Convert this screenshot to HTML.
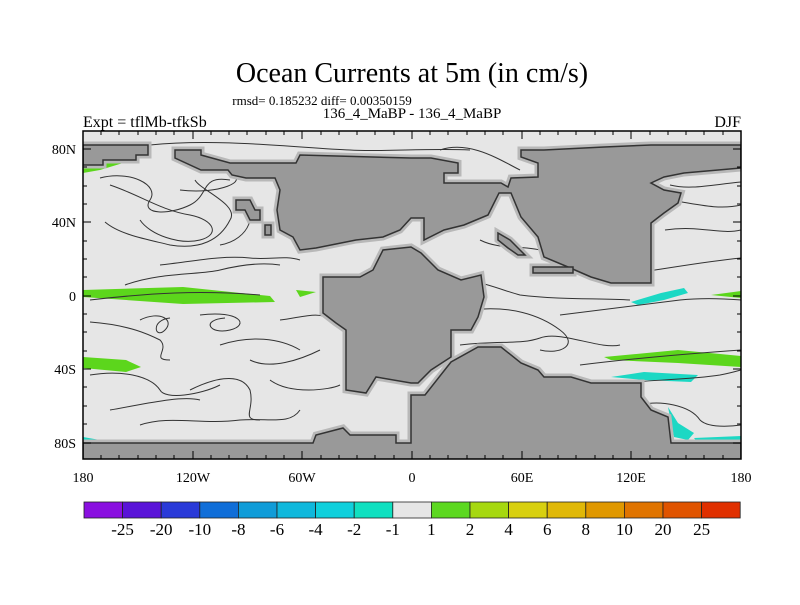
<!DOCTYPE html>
<html><head><meta charset="utf-8"><style>
body{margin:0;background:#fff;}
svg text{font-family:"Liberation Serif",serif;fill:#000;}
</style></head><body>
<svg width="800" height="600" viewBox="0 0 800 600" xmlns="http://www.w3.org/2000/svg">
<rect width="800" height="600" fill="#fff"/>
<text x="412" y="82" font-size="28" text-anchor="middle">Ocean Currents at 5m (in cm/s)</text>
<text x="322" y="105" font-size="13" text-anchor="middle">rmsd= 0.185232 diff= 0.00350159</text>
<text x="412" y="118" font-size="15" text-anchor="middle">136_4_MaBP - 136_4_MaBP</text>
<text x="83" y="127" font-size="16">Expt = tflMb-tfkSb</text>
<text x="741" y="127" font-size="16" text-anchor="end">DJF</text>
<defs><clipPath id="c"><rect x="83" y="131" width="658" height="328"/></clipPath></defs>
<rect x="83" y="131" width="658" height="328" fill="#e6e6e6"/>
<g clip-path="url(#c)">
<g fill="#5cd61c">
<polygon points="83,163 123,163 100,170 83,173"/>
<polygon points="83,290 183,287 270,296 275,302 183,304 83,297"/>
<polygon points="296,290 316,292 300,297"/>
<polygon points="83,357 126,360 141,367 126,372 83,368"/>
<polygon points="604,357 678,350 741,356 741,367 678,363 611,360"/>
<polygon points="711,295 741,291 741,298"/>
</g>
<g fill="#1cd8c4">
<polygon points="631,302 661,293 684,288 688,293 664,300 638,305"/>
<polygon points="611,377 644,372 698,375 691,382 644,380"/>
<polygon points="668,407 678,423 694,433 688,440 674,437"/>
<polygon points="694,438 741,436 741,443 698,443"/>
<polygon points="83,437 100,440 86,452"/>
</g>
<g fill="none" stroke="#333" stroke-width="1">
<path d="M150,145 C220,138 300,148 350,150 C380,152 430,148 470,150"/>
<path d="M100,178 C130,170 160,185 150,200 C140,215 170,215 190,205 C210,195 200,175 230,180"/>
<path d="M110,185 C140,195 160,210 190,215 C215,220 220,235 200,240 C180,245 150,235 140,220"/>
<path d="M105,222 C120,235 150,240 170,245 C200,250 220,240 230,220 C240,205 200,190 195,180"/>
<path d="M180,190 C220,195 250,180 230,175"/>
<path d="M240,200 C260,210 250,240 220,245"/>
<path d="M125,285 C160,272 200,275 220,270 C240,265 260,262 280,265"/>
<path d="M160,265 C190,262 220,255 250,258 C270,260 285,255 300,260"/>
<path d="M90,300 C150,293 200,290 260,295"/>
<path d="M140,320 C160,310 175,320 165,330 C155,340 150,320 170,318"/>
<path d="M200,315 C240,310 250,325 230,330 C210,335 200,320 225,318"/>
<path d="M220,345 C250,335 280,338 300,350"/>
<path d="M90,322 C130,325 150,335 160,340 C170,350 150,360 170,360"/>
<path d="M90,375 C120,370 150,375 160,390 C165,400 200,395 220,385"/>
<path d="M190,390 C210,380 240,370 250,390 C255,410 240,420 260,420"/>
<path d="M140,425 C170,415 200,425 240,420 C270,418 290,425 300,410"/>
<path d="M110,410 C140,405 180,395 200,400"/>
<path d="M280,320 C300,318 320,310 330,320"/>
<path d="M250,360 C270,370 300,360 320,350"/>
<path d="M270,380 C290,395 330,390 340,385"/>
<path d="M440,150 C470,140 500,160 520,170"/>
<path d="M480,240 C500,250 520,245 540,250"/>
<path d="M440,280 C470,275 500,290 520,295 C560,300 600,298 630,300"/>
<path d="M470,310 C510,305 540,315 560,330 C580,345 560,355 540,350"/>
<path d="M460,345 C500,340 520,345 540,338 C560,330 600,350 620,345"/>
<path d="M560,315 C600,310 640,305 680,300 C710,297 740,300 741,300"/>
<path d="M620,275 C660,270 700,262 741,258"/>
<path d="M670,200 C700,205 720,210 741,205"/>
<path d="M665,230 C700,225 720,235 741,230"/>
<path d="M670,185 C690,190 710,185 741,182"/>
<path d="M580,365 C620,360 670,355 741,350"/>
<path d="M600,385 C640,380 690,380 720,375 C735,372 740,370 741,370"/>
<path d="M640,405 C660,400 690,405 700,420 C710,430 741,425 741,425"/>
<path d="M470,395 C520,385 560,390 600,395"/>
</g>
<g stroke-linejoin="miter">
<g fill="#999" stroke="#b8b8b8" stroke-width="7">
<polygon id="n" points="175,150 201,150 201,155 230,163 296,163 300,155 411,158 431,158 458,163 458,173 444,173 444,183 501,183 508,187 511,178 538,177 538,163 521,157 521,150 544,150 604,147 651,145 741,145 741,168 684,173 664,177 651,183 664,190 681,193 678,203 664,213 651,223 651,283 611,283 591,277 568,267 544,257 538,237 521,217 511,193 499,193 488,215 464,225 444,230 424,240 424,218 411,218 400,230 383,237 356,240 316,248 300,250 293,237 280,230 277,210 280,190 275,178 246,178 232,175 228,170 201,170 175,158"/>
<polygon points="83,145 148,145 148,155 136,155 136,160 103,160 103,165 83,165"/>
<polygon points="323,277 360,277 373,270 383,250 411,247 421,253 438,270 461,280 481,275 484,297 478,317 471,330 451,330 451,357 431,370 418,383 411,383 376,377 366,393 346,390 346,330 336,323 323,313"/>
<polygon points="83,443 313,443 316,435 343,428 350,435 396,435 396,443 411,443 411,395 425,395 451,362 478,347 501,347 521,363 538,370 544,377 571,377 591,383 641,383 641,397 651,410 668,417 671,443 741,443 741,470 83,470"/>
<polygon points="236,200 250,200 255,210 260,210 260,220 250,220 245,210 236,210"/>
<polygon points="265,225 271,225 271,235 265,235"/>
<polygon points="498,233 510,240 520,250 525,255 518,255 508,248 498,240"/>
<polygon points="533,267 573,267 573,273 533,273"/>
</g>
<g fill="#999" stroke="#333" stroke-width="1.5">
<polygon points="175,150 201,150 201,155 230,163 296,163 300,155 411,158 431,158 458,163 458,173 444,173 444,183 501,183 508,187 511,178 538,177 538,163 521,157 521,150 544,150 604,147 651,145 741,145 741,168 684,173 664,177 651,183 664,190 681,193 678,203 664,213 651,223 651,283 611,283 591,277 568,267 544,257 538,237 521,217 511,193 499,193 488,215 464,225 444,230 424,240 424,218 411,218 400,230 383,237 356,240 316,248 300,250 293,237 280,230 277,210 280,190 275,178 246,178 232,175 228,170 201,170 175,158"/>
<polygon points="83,145 148,145 148,155 136,155 136,160 103,160 103,165 83,165"/>
<polygon points="323,277 360,277 373,270 383,250 411,247 421,253 438,270 461,280 481,275 484,297 478,317 471,330 451,330 451,357 431,370 418,383 411,383 376,377 366,393 346,390 346,330 336,323 323,313"/>
<polygon points="83,443 313,443 316,435 343,428 350,435 396,435 396,443 411,443 411,395 425,395 451,362 478,347 501,347 521,363 538,370 544,377 571,377 591,383 641,383 641,397 651,410 668,417 671,443 741,443 741,470 83,470"/>
<polygon points="236,200 250,200 255,210 260,210 260,220 250,220 245,210 236,210"/>
<polygon points="265,225 271,225 271,235 265,235"/>
<polygon points="498,233 510,240 520,250 525,255 518,255 508,248 498,240"/>
<polygon points="533,267 573,267 573,273 533,273"/>
</g>
</g>
</g>
<rect x="83" y="131" width="658" height="328" fill="none" stroke="#000" stroke-width="1.5"/>
<g stroke="#000" stroke-width="1">
<path d="M83,131v8M193,131v8M302,131v8M412,131v8M522,131v8M631,131v8M741,131v8M83,459v-8M193,459v-8M302,459v-8M412,459v-8M522,459v-8M631,459v-8M741,459v-8"/>
<path d="M101,131v4M119,131v4M138,131v4M156,131v4M174,131v4M211,131v4M229,131v4M247,131v4M266,131v4M284,131v4M321,131v4M339,131v4M357,131v4M375,131v4M394,131v4M430,131v4M448,131v4M467,131v4M485,131v4M503,131v4M540,131v4M558,131v4M576,131v4M595,131v4M613,131v4M650,131v4M668,131v4M686,131v4M704,131v4M723,131v4"/>
<path d="M101,459v-4M119,459v-4M138,459v-4M156,459v-4M174,459v-4M211,459v-4M229,459v-4M247,459v-4M266,459v-4M284,459v-4M321,459v-4M339,459v-4M357,459v-4M375,459v-4M394,459v-4M430,459v-4M448,459v-4M467,459v-4M485,459v-4M503,459v-4M540,459v-4M558,459v-4M576,459v-4M595,459v-4M613,459v-4M650,459v-4M668,459v-4M686,459v-4M704,459v-4M723,459v-4"/>
<path d="M83,149h8M83,222h8M83,296h8M83,369h8M83,443h8M741,149h-8M741,222h-8M741,296h-8M741,369h-8M741,443h-8"/>
<path d="M83,167h4M83,186h4M83,204h4M83,241h4M83,259h4M83,277h4M83,314h4M83,332h4M83,351h4M83,387h4M83,406h4M83,424h4M741,167h-4M741,186h-4M741,204h-4M741,241h-4M741,259h-4M741,277h-4M741,314h-4M741,332h-4M741,351h-4M741,387h-4M741,406h-4M741,424h-4"/>
</g>
<g font-size="14">
<text x="76" y="154" text-anchor="end">80N</text>
<text x="76" y="227" text-anchor="end">40N</text>
<text x="76" y="301" text-anchor="end">0</text>
<text x="76" y="374" text-anchor="end">40S</text>
<text x="76" y="448" text-anchor="end">80S</text>
<text x="83" y="482" text-anchor="middle">180</text>
<text x="193" y="482" text-anchor="middle">120W</text>
<text x="302" y="482" text-anchor="middle">60W</text>
<text x="412" y="482" text-anchor="middle">0</text>
<text x="522" y="482" text-anchor="middle">60E</text>
<text x="631" y="482" text-anchor="middle">120E</text>
<text x="741" y="482" text-anchor="middle">180</text>
</g>
<g stroke="#222" stroke-width="0.8">
<rect x="84" y="502" width="38.6" height="16" fill="#8a10e0"/>
<rect x="122.6" y="502" width="38.6" height="16" fill="#5a14d8"/>
<rect x="161.2" y="502" width="38.6" height="16" fill="#2a3ad8"/>
<rect x="199.8" y="502" width="38.6" height="16" fill="#106ed8"/>
<rect x="238.4" y="502" width="38.6" height="16" fill="#109cd8"/>
<rect x="277" y="502" width="38.6" height="16" fill="#10b8dc"/>
<rect x="315.6" y="502" width="38.6" height="16" fill="#10d0dc"/>
<rect x="354.2" y="502" width="38.6" height="16" fill="#10e0c0"/>
<rect x="392.8" y="502" width="38.6" height="16" fill="#e6e6e6"/>
<rect x="431.4" y="502" width="38.6" height="16" fill="#5cd820"/>
<rect x="470" y="502" width="38.6" height="16" fill="#a6d810"/>
<rect x="508.6" y="502" width="38.6" height="16" fill="#d8d010"/>
<rect x="547.2" y="502" width="38.6" height="16" fill="#e0b808"/>
<rect x="585.8" y="502" width="38.6" height="16" fill="#e09800"/>
<rect x="624.4" y="502" width="38.6" height="16" fill="#e07400"/>
<rect x="663" y="502" width="38.6" height="16" fill="#e05400"/>
<rect x="701.6" y="502" width="38.6" height="16" fill="#e03000"/>
</g>
<g font-size="17" text-anchor="middle">
<text x="122.6" y="535">-25</text><text x="161.2" y="535">-20</text><text x="199.8" y="535">-10</text>
<text x="238.4" y="535">-8</text><text x="277" y="535">-6</text><text x="315.6" y="535">-4</text>
<text x="354.2" y="535">-2</text><text x="392.8" y="535">-1</text><text x="431.4" y="535">1</text>
<text x="470" y="535">2</text><text x="508.6" y="535">4</text><text x="547.2" y="535">6</text>
<text x="585.8" y="535">8</text><text x="624.4" y="535">10</text><text x="663" y="535">20</text>
<text x="701.6" y="535">25</text>
</g>
</svg>
</body></html>
